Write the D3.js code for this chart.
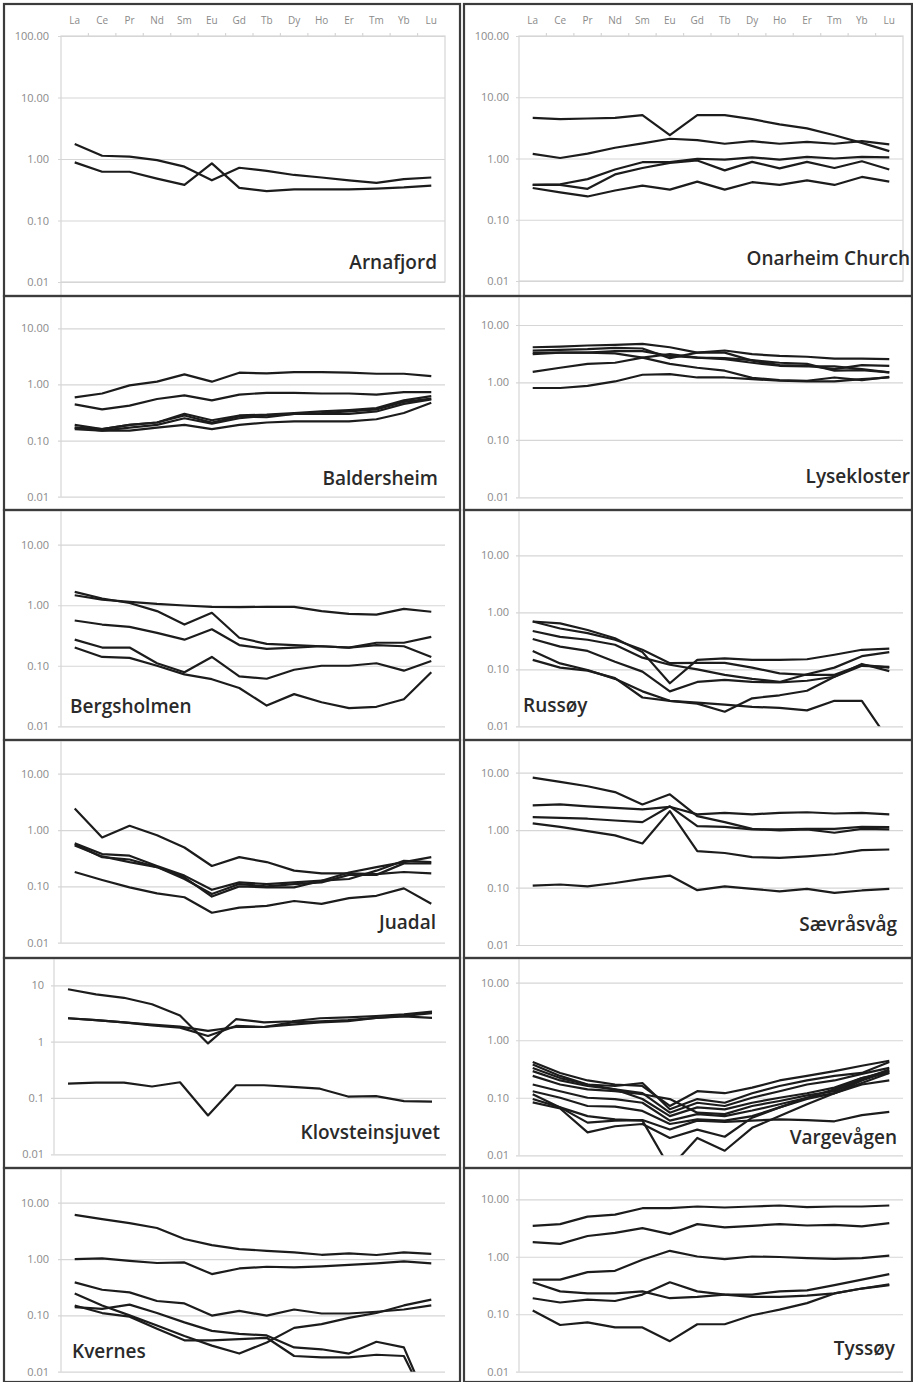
<!DOCTYPE html>
<html>
<head>
<meta charset="utf-8">
<script src="https://cdn.jsdelivr.net/npm/d3@7"></script>
<style>
  html, body { margin: 0; padding: 0; background: #fff; }
  svg { display: block; }
</style>
</head>
<body>
<svg id="chart" width="913" height="1382"></svg>
<script>
// Chondrite-normalised REE patterns, one panel per locality.
const elements = ["La","Ce","Pr","Nd","Sm","Eu","Gd","Tb","Dy","Ho","Er","Tm","Yb","Lu"];

const ticksFull = [100, 10, 1, 0.1, 0.01];
const ticksShort = [10, 1, 0.1, 0.01];
const tickLabelsFixed = ["100.00", "10.00", "1.00", "0.10", "0.01"];
const tickLabelsPlain = ["100", "10", "1", "0.1", "0.01"];

const arnafjord = [
  [1.76,1.13,1.09,0.96,0.75,0.45,0.72,0.64,0.55,0.50,0.45,0.41,0.47,0.50],
  [0.88,0.62,0.62,0.48,0.38,0.85,0.34,0.30,0.32,0.32,0.32,0.33,0.345,0.37]
];

const onarheimChurch = [
  [4.6,4.4,4.5,4.6,5.1,2.4,5.1,5.1,4.4,3.6,3.1,2.4,1.8,1.32],
  [1.19,1.02,1.2,1.5,1.76,2.1,2.0,1.74,1.92,1.74,1.87,1.74,1.92,1.7],
  [0.37,0.38,0.46,0.66,0.87,0.87,0.99,0.96,1.04,0.96,1.06,1.0,1.06,1.04],
  [0.37,0.37,0.32,0.55,0.70,0.85,0.93,0.64,0.88,0.69,0.88,0.70,0.90,0.66],
  [0.33,0.28,0.24,0.30,0.36,0.31,0.42,0.31,0.41,0.37,0.44,0.37,0.50,0.42]
];

const baldersheim = [
  [0.59,0.69,0.96,1.12,1.51,1.12,1.62,1.57,1.66,1.66,1.62,1.55,1.55,1.41],
  [0.44,0.36,0.42,0.55,0.64,0.52,0.66,0.71,0.71,0.69,0.69,0.66,0.73,0.73],
  [0.19,0.16,0.19,0.21,0.30,0.23,0.28,0.29,0.31,0.33,0.35,0.38,0.52,0.62],
  [0.17,0.16,0.19,0.21,0.28,0.21,0.27,0.26,0.30,0.31,0.33,0.36,0.49,0.56],
  [0.17,0.15,0.17,0.19,0.25,0.20,0.25,0.28,0.30,0.30,0.30,0.33,0.45,0.54],
  [0.16,0.15,0.15,0.17,0.19,0.16,0.19,0.21,0.22,0.22,0.22,0.24,0.31,0.47]
];

const lysekloster = [
  [4.1,4.2,4.4,4.5,4.7,4.1,3.3,3.6,3.1,2.9,2.8,2.6,2.6,2.55],
  [3.6,3.7,3.8,4.0,3.9,2.65,3.3,3.3,2.4,2.0,1.95,1.7,2.0,1.95],
  [3.1,3.3,3.3,3.5,3.5,2.9,2.7,2.55,2.2,1.95,1.9,1.9,1.7,1.5],
  [3.3,3.3,3.3,3.2,2.7,2.1,1.8,1.6,1.2,1.1,1.07,1.22,1.1,1.25],
  [1.53,1.8,2.1,2.2,2.7,3.1,2.7,2.65,2.45,2.2,2.1,1.6,1.64,1.5],
  [0.80,0.80,0.87,1.04,1.36,1.4,1.22,1.22,1.14,1.07,1.04,1.04,1.14,1.22]
];

const bergsholmen = [
  [1.46,1.24,1.14,1.05,0.99,0.94,0.93,0.94,0.94,0.80,0.72,0.70,0.87,0.78],
  [1.66,1.29,1.09,0.80,0.48,0.75,0.29,0.23,0.22,0.21,0.20,0.24,0.24,0.30],
  [0.56,0.48,0.44,0.35,0.27,0.40,0.22,0.19,0.20,0.21,0.20,0.22,0.21,0.14],
  [0.27,0.20,0.20,0.11,0.078,0.14,0.067,0.061,0.086,0.10,0.10,0.11,0.083,0.12],
  [0.20,0.14,0.135,0.10,0.072,0.060,0.043,0.022,0.034,0.025,0.020,0.021,0.028,0.078]
];

const russoy = [
  [0.69,0.64,0.49,0.35,0.20,0.057,0.146,0.155,0.146,0.146,0.15,0.18,0.22,0.23],
  [0.69,0.52,0.43,0.33,0.22,0.128,0.13,0.13,0.107,0.085,0.08,0.08,0.12,0.107],
  [0.47,0.37,0.33,0.27,0.16,0.12,0.10,0.08,0.068,0.06,0.082,0.107,0.17,0.20],
  [0.34,0.25,0.21,0.136,0.091,0.041,0.06,0.065,0.06,0.059,0.063,0.074,0.115,0.11],
  [0.21,0.127,0.097,0.068,0.041,0.028,0.025,0.018,0.031,0.035,0.042,0.074,0.124,0.093],
  [0.146,0.107,0.095,0.07,0.032,0.028,0.026,0.024,0.022,0.021,0.019,0.028,0.028,0.0055]
];

const juadal = [
  [2.4,0.74,1.19,0.81,0.49,0.23,0.33,0.27,0.19,0.17,0.17,0.165,0.18,0.17],
  [0.58,0.375,0.35,0.23,0.155,0.087,0.118,0.11,0.118,0.126,0.135,0.19,0.285,0.27],
  [0.56,0.33,0.30,0.22,0.145,0.066,0.10,0.096,0.096,0.126,0.176,0.22,0.27,0.33],
  [0.53,0.34,0.27,0.22,0.135,0.073,0.11,0.10,0.11,0.118,0.16,0.16,0.256,0.256],
  [0.18,0.13,0.096,0.075,0.064,0.034,0.042,0.045,0.055,0.049,0.062,0.068,0.092,0.049]
];

const saevrasvag = [
  [8.2,6.9,5.8,4.6,2.8,4.2,1.75,1.38,1.05,0.99,1.03,0.90,1.05,1.03],
  [2.7,2.8,2.6,2.45,2.3,2.55,1.88,2.0,1.88,2.0,2.05,1.95,2.0,1.88],
  [1.68,1.64,1.58,1.47,1.38,2.6,1.17,1.14,1.03,1.03,1.05,1.05,1.14,1.13],
  [1.31,1.14,0.96,0.81,0.585,2.14,0.43,0.40,0.34,0.33,0.35,0.38,0.45,0.46],
  [0.108,0.113,0.105,0.12,0.142,0.162,0.09,0.105,0.095,0.086,0.095,0.081,0.089,0.095]
];

const klovsteinsjuvet = [
  [8.5,6.9,6.0,4.6,2.9,0.93,2.5,2.2,2.3,2.6,2.7,2.85,3.05,3.4],
  [2.6,2.4,2.2,1.95,1.77,1.26,1.9,1.82,2.2,2.3,2.4,2.65,2.85,3.2],
  [2.6,2.4,2.2,2.0,1.85,1.55,1.82,1.82,2.0,2.2,2.3,2.65,2.8,2.65],
  [0.18,0.187,0.187,0.16,0.19,0.049,0.168,0.168,0.157,0.146,0.106,0.108,0.088,0.086]
];

const vargevagen = [
  [0.42,0.27,0.20,0.17,0.16,0.072,0.13,0.12,0.15,0.20,0.24,0.29,0.36,0.44],
  [0.38,0.24,0.17,0.16,0.18,0.063,0.095,0.082,0.12,0.16,0.20,0.24,0.27,0.42],
  [0.33,0.22,0.17,0.14,0.12,0.055,0.082,0.072,0.10,0.13,0.17,0.20,0.26,0.33],
  [0.29,0.20,0.16,0.14,0.095,0.048,0.068,0.063,0.082,0.10,0.12,0.15,0.22,0.29],
  [0.24,0.17,0.14,0.13,0.115,0.095,0.055,0.052,0.072,0.088,0.11,0.13,0.21,0.31],
  [0.17,0.13,0.10,0.095,0.082,0.04,0.052,0.048,0.06,0.077,0.10,0.12,0.18,0.27],
  [0.13,0.10,0.072,0.07,0.059,0.035,0.042,0.04,0.048,0.068,0.095,0.12,0.17,0.20],
  [0.115,0.068,0.037,0.04,0.041,0.028,0.04,0.038,0.04,0.042,0.041,0.039,0.05,0.057],
  [0.083,0.065,0.025,0.032,0.035,0.02,0.028,0.021,0.045,0.068,0.10,0.14,0.22,0.27],
  [0.095,0.068,0.048,0.042,0.04,0.006,0.02,0.012,0.03,0.048,0.077,0.12,0.20,0.29]
];

const kvernes = [
  [6.1,5.1,4.35,3.55,2.27,1.77,1.5,1.4,1.31,1.19,1.26,1.18,1.31,1.23],
  [1.0,1.03,0.93,0.85,0.87,0.54,0.68,0.73,0.71,0.74,0.79,0.84,0.91,0.84],
  [0.385,0.285,0.256,0.18,0.163,0.099,0.12,0.099,0.127,0.108,0.108,0.116,0.127,0.15],
  [0.245,0.15,0.10,0.066,0.043,0.029,0.021,0.033,0.060,0.070,0.090,0.110,0.150,0.190],
  [0.15,0.11,0.095,0.058,0.036,0.036,0.038,0.040,0.019,0.018,0.018,0.020,0.019,0.002],
  [0.14,0.13,0.155,0.11,0.075,0.053,0.047,0.044,0.027,0.025,0.021,0.034,0.027,0.002]
];

const tyssoy = [
  [3.46,3.7,5.0,5.4,7.0,7.0,7.5,7.2,7.5,7.8,7.3,7.5,7.5,7.8],
  [1.8,1.68,2.3,2.6,3.15,2.48,3.7,3.24,3.46,3.7,3.5,3.6,3.37,3.85],
  [0.40,0.40,0.54,0.57,0.89,1.27,1.01,0.91,1.01,0.99,0.95,0.92,0.95,1.05],
  [0.36,0.25,0.23,0.23,0.25,0.19,0.20,0.22,0.22,0.25,0.26,0.32,0.40,0.50],
  [0.19,0.16,0.18,0.17,0.22,0.36,0.25,0.22,0.20,0.20,0.21,0.23,0.28,0.32],
  [0.116,0.065,0.072,0.059,0.059,0.034,0.067,0.067,0.096,0.12,0.156,0.23,0.28,0.33]
];

// Panel frames and plot areas (pixels)
const L = { x0: 4, x1: 460, left: 61, right: 445, pad: 12 };
const R = { x0: 464, x1: 912, left: 519, right: 903, pad: 10 };

const panels = [
  { title: "Arnafjord", series: arnafjord, col: L, y0: 4, y1: 296, top: 36, bottom: 282, max: 100, header: true, tx: 437, ty: 269, anchor: "end" },
  { title: "Onarheim Church", series: onarheimChurch, col: R, y0: 4, y1: 296, top: 36, bottom: 281, max: 100, header: true, tx: 910, ty: 265, anchor: "end" },
  { title: "Baldersheim", series: baldersheim, col: L, y0: 296, y1: 510, top: 328.3, bottom: 496.7, max: 10, tx: 438, ty: 485, anchor: "end" },
  { title: "Lysekloster", series: lysekloster, col: R, y0: 296, y1: 510, top: 325, bottom: 497.3, max: 10, tx: 910, ty: 483, anchor: "end" },
  { title: "Bergsholmen", series: bergsholmen, col: L, y0: 510, y1: 740, top: 544.7, bottom: 726.3, max: 10, tx: 70, ty: 713, anchor: "start" },
  { title: "Russøy", series: russoy, col: R, y0: 510, y1: 740, top: 555.3, bottom: 726.3, max: 10, tx: 523, ty: 712, anchor: "start" },
  { title: "Juadal", series: juadal, col: L, y0: 740, y1: 958, top: 773.7, bottom: 942.7, max: 10, tx: 436, ty: 929, anchor: "end" },
  { title: "Sævråsvåg", series: saevrasvag, col: R, y0: 740, y1: 958, top: 772.7, bottom: 945, max: 10, tx: 897, ty: 931, anchor: "end" },
  { title: "Klovsteinsjuvet", series: klovsteinsjuvet, col: { x0: 4, x1: 460, left: 54, right: 446, pad: 10 }, y0: 958, y1: 1168, top: 985.3, bottom: 1154.3, max: 10, tx: 440, ty: 1139, anchor: "end", plain: true },
  { title: "Vargevågen", series: vargevagen, col: R, y0: 958, y1: 1168, top: 982.7, bottom: 1155.3, max: 10, tx: 897, ty: 1144, anchor: "end" },
  { title: "Kvernes", series: kvernes, col: L, y0: 1168, y1: 1382, top: 1202.7, bottom: 1371.7, max: 10, tx: 72, ty: 1358, anchor: "start" },
  { title: "Tyssøy", series: tyssoy, col: R, y0: 1168, y1: 1382, top: 1199.3, bottom: 1371.7, max: 10, tx: 895, ty: 1355, anchor: "end" }
];

const svg = d3.select("#chart");
const gridColor = "#d6d6d6";
const labelColor = "#8a8a8a";

panels.forEach((p, i) => {
  const c = p.col;
  const g = svg.append("g");

  const x = d3.scaleBand().domain(elements).range([c.left, c.right]);
  const y = d3.scaleLog().domain([0.01, p.max]).range([p.bottom, p.top]);
  const ticks = p.max === 100 ? ticksFull : ticksShort;
  const labels = p.plain ? tickLabelsPlain : tickLabelsFixed;
  const labelFor = v => labels[ticksFull.indexOf(v)];

  // gridlines and tick labels
  const yAxis = d3.axisLeft(y)
    .tickValues(ticks)
    .tickFormat(labelFor)
    .tickSizeInner(-(c.right - c.left))
    .tickSizeOuter(0)
    .tickPadding(c.pad);
  const ya = g.append("g").attr("transform", `translate(${c.left},0)`).call(yAxis);
  ya.select(".domain").remove();
  ya.selectAll(".tick line").attr("x1", -3).attr("stroke", gridColor).attr("stroke-width", 1.2);
  ya.selectAll(".tick text")
    .attr("fill", labelColor)
    .style("font-family", "'Open Sans', sans-serif")
    .style("font-size", "11px");

  // vertical axis line
  if (p.header) {
    g.append("rect")
      .attr("x", c.left).attr("y", p.top)
      .attr("width", c.right - c.left).attr("height", p.bottom - p.top)
      .attr("fill", "none").attr("stroke", gridColor).attr("stroke-width", 1.2);
    g.append("line")
      .attr("x1", c.left).attr("x2", c.left)
      .attr("y1", p.bottom).attr("y2", p.y1)
      .attr("stroke", gridColor).attr("stroke-width", 1.2);
  } else {
    g.append("line")
      .attr("x1", c.left).attr("x2", c.left)
      .attr("y1", p.y0).attr("y2", p.bottom)
      .attr("stroke", gridColor).attr("stroke-width", 1.2);
  }

  // element names along the top axis
  if (p.header) {
    const xAxis = d3.axisTop(x).tickSize(0).tickPadding(12);
    const xa = g.append("g").attr("transform", `translate(0,${p.top})`).call(xAxis);
    xa.select(".domain").remove();
    xa.selectAll(".tick text")
      .attr("fill", labelColor)
      .style("font-family", "'Open Sans', sans-serif")
      .style("font-size", "10px");
    // category boundary ticks
    g.append("g").selectAll("line")
      .data(elements.slice(1))
      .join("line")
      .attr("x1", d => x(d)).attr("x2", d => x(d))
      .attr("y1", p.top - 3).attr("y2", p.top)
      .attr("stroke", gridColor).attr("stroke-width", 1.2);
  }

  // clip lines to the plotting region
  const clipId = "clip" + i;
  svg.append("clipPath").attr("id", clipId)
    .append("rect")
    .attr("x", c.left).attr("y", p.y0)
    .attr("width", c.right - c.left).attr("height", p.bottom - p.y0);

  const line = d3.line()
    .x((d, k) => x(elements[k]) + x.bandwidth() / 2)
    .y(d => y(d));

  g.append("g").attr("clip-path", `url(#${clipId})`)
    .selectAll("path")
    .data(p.series)
    .join("path")
    .attr("d", line)
    .attr("fill", "none")
    .attr("stroke", "#1c1c1c")
    .attr("stroke-width", 2.2)
    .attr("stroke-linejoin", "round");

  // locality name
  g.append("text")
    .attr("x", p.tx).attr("y", p.ty)
    .attr("text-anchor", p.anchor)
    .attr("fill", "#2a2a2a")
    .style("font-family", "'Open Sans', sans-serif")
    .style("font-weight", 600)
    .style("font-size", "19px")
    .text(p.title);

  // panel frame
  svg.append("rect")
    .attr("x", c.x0).attr("y", p.y0)
    .attr("width", c.x1 - c.x0).attr("height", p.y1 - p.y0)
    .attr("fill", "none")
    .attr("stroke", "#3c3c3c")
    .attr("stroke-width", 2.2);
});
</script>
</body>
</html>
